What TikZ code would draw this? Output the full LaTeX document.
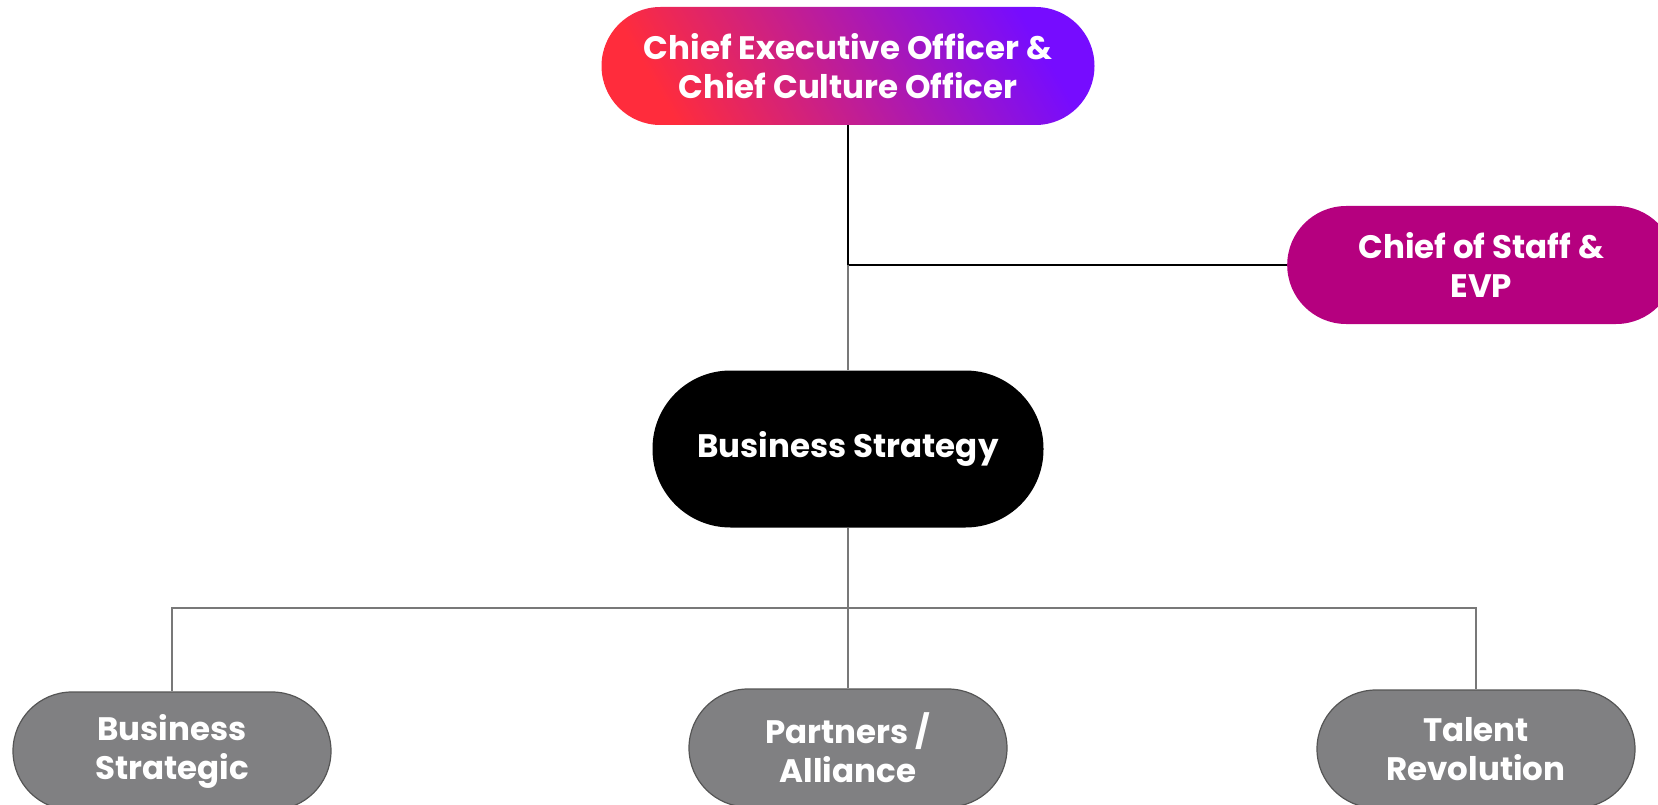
\documentclass[tikz,border=0pt]{standalone}
\usepackage{fontspec}
\setmainfont{Poppins}
\usetikzlibrary{positioning, calc}
\definecolor{CeoRed}{RGB}{255, 44, 60}
\definecolor{CeoViolet}{RGB}{118, 12, 255}
\definecolor{StaffPink}{RGB}{181, 0, 127}
\definecolor{UnitGray}{RGB}{128, 128, 130}
\definecolor{UnitEdge}{RGB}{85, 85, 85}
\definecolor{LinkGray}{RGB}{120, 120, 120}

\tikzset{
    pill/.style={rectangle, rounded corners=#1, text=white, align=center,
        font=\fontsize{32.5}{39}\selectfont\bfseries, inner sep=0pt},
    unitbox/.style={pill=59pt, fill=UnitGray, draw=UnitEdge, line width=1.2pt,
        minimum width=318pt, minimum height=118pt},
    link/.style={draw=LinkGray, line width=1.6pt},
    toplink/.style={draw=black, line width=1.6pt}
}

\begin{document}
\begin{tikzpicture}[x=1pt, y=-1pt]
    \useasboundingbox (0,0) rectangle (1658,805);

    % Top level
    \node[pill=59pt, left color=CeoRed, right color=CeoViolet, shading angle=120,
        minimum width=493pt, minimum height=118pt] (ceo) at (848,66)
        {Chief Executive Officer \&\\Chief Culture Officer};

    % Staff box, runs off the right edge
    \node[pill=59pt, fill=StaffPink, minimum width=388pt, minimum height=118pt,
        anchor=west] (staff) at (1287,265) {Chief of Staff \&\\EVP};

    % Middle
    \node[pill=78pt, fill=black, minimum width=391pt, minimum height=157pt]
        (strategy) at (848,449) {Business Strategy};

    % Bottom row
    \node[unitbox] (strategic) at (172,751) {Business\\Strategic};
    \node[unitbox] (partners) at (848,748) {Partners /\\Alliance};
    \node[unitbox] (talent) at (1476,749) {Talent\\Revolution};

    % Connectors
    \coordinate (split) at (ceo.south |- staff.west);
    \coordinate (fork) at (848,608);
    \draw[toplink] (ceo.south) |- (staff.west);
    \draw[link] (split) -- (strategy.north);
    \draw[link] (strategy.south) -- (partners.north);
    \draw[link] (fork) -| (strategic.north);
    \draw[link] (fork) -| (talent.north);
\end{tikzpicture}
\end{document}
